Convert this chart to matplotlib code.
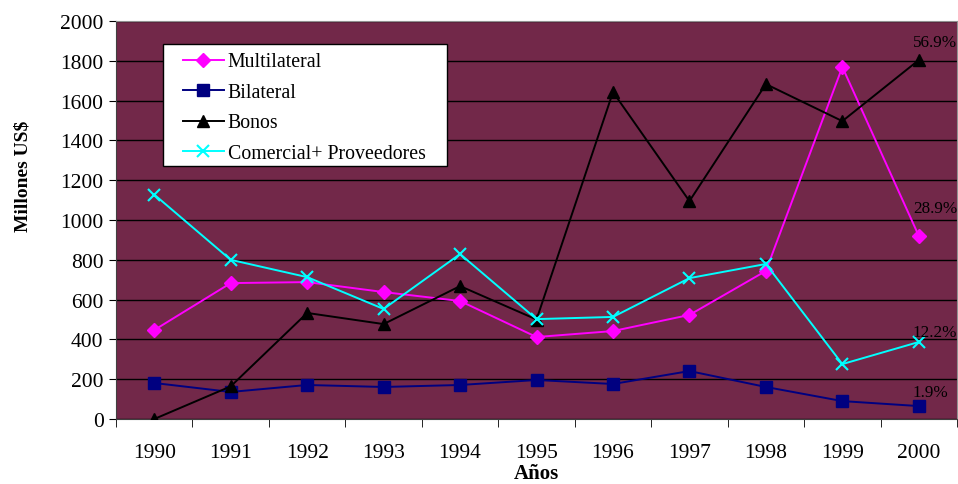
import numpy as np
import matplotlib.pyplot as plt
from matplotlib.patches import Rectangle

plt.rcParams['font.family'] = ['Liberation Serif', 'DejaVu Serif']

years = ['1990', '1991', '1992', '1993', '1994', '1995', '1996', '1997', '1998', '1999', '2000']
multilateral = [447, 683, 688, 638, 593, 412, 442, 523, 744, 1769, 920]
bilateral = [181, 136, 171, 161, 171, 196, 176, 241, 161, 90, 65]
bonos = [0, 164, 533, 477, 668, 500, 1643, 1095, 1683, 1497, 1804]
comercial = [1128, 800, 713, 553, 829, 502, 513, 708, 779, 276, 387]
end_labels = ['28.9%', '1.9%', '56.9%', '12.2%']

fig = plt.figure(figsize=(9.58, 4.85), dpi=100)
ax = fig.add_axes([0.1211, 0.134, 0.8779, 0.8206])
ax.set_facecolor('#722849')

x = np.arange(len(years))
series = [
    (multilateral, 'Multilateral', '#FF00FF', 'D', 7),
    (bilateral, 'Bilateral', '#000080', 's', 8),
    (bonos, 'Bonos', '#000000', '^', 8),
    (comercial, 'Comercial+ Proveedores', '#00FFFF', 'x', 8),
]
for vals, name, col, mk, ms in series:
    ax.plot(x, vals, color=col, lw=1.4, marker=mk, markersize=ms,
            markeredgewidth=1.5 if mk == 'x' else 1, label=name, zorder=3)

# etiquetas de participacion en el ultimo anio
offsets = [(-4.3, 20), (-4.3, 10), (-4.3, 13), (-4.3, 7.2)]
for (vals, _, _, _, _), lab, off in zip(series, end_labels, offsets):
    ax.annotate(lab, (x[-1], vals[-1]), xytext=off, textcoords='offset points',
                fontsize=12.3, ha='left', va='center', annotation_clip=False)

ax.set_ylim(0, 2000)
ax.set_xlim(-0.5, len(years) - 0.5)
ax.set_yticks(np.arange(0, 2001, 200))
ax.yaxis.grid(True, color='black', lw=1)
ax.set_axisbelow(True)

ax.set_xticks(x)
ax.set_xticklabels(years)
ax.set_xticks(np.arange(-0.5, len(years), 1), minor=True)
ax.tick_params(axis='x', which='major', length=0, pad=17, labelsize=15.5)
ax.tick_params(axis='x', which='minor', length=6, direction='out')
ax.tick_params(axis='y', length=5, direction='out', labelsize=15.5, pad=4)

for s in ['top', 'right']:
    ax.spines[s].set_color('#909090')
ax.spines['left'].set_color('#404040')
ax.spines['bottom'].set_color('#404040')

ax.set_xlabel('Años', fontsize=15, fontweight='bold', labelpad=1)
ax.set_ylabel('Millones US$', fontsize=14, fontweight='bold')
ax.yaxis.set_label_coords(-0.101, 0.613)

# caja de la leyenda (estilo Excel) y leyenda sin marco encima
ax.add_patch(Rectangle((0.0559, 0.6357), 0.3377, 0.3065, transform=ax.transAxes,
                       facecolor='white', edgecolor='black', lw=1, zorder=4))
leg = ax.legend(loc='upper left', bbox_to_anchor=(0.0795, 0.921), bbox_transform=ax.transAxes,
                borderaxespad=0, borderpad=0, fontsize=14.3, frameon=False,
                handlelength=2.05, handletextpad=0.2, labelspacing=0.58)
leg.set_zorder(5)

fig.savefig('out.png', dpi=100)
